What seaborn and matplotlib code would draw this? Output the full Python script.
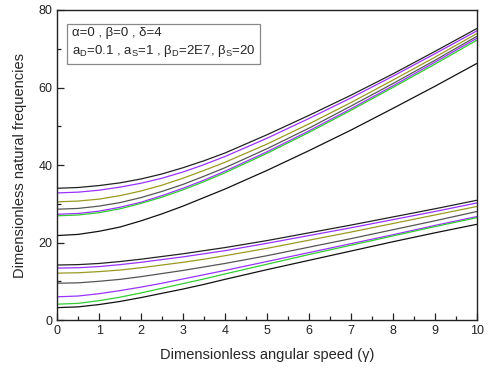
import matplotlib
matplotlib.use("Agg")
import matplotlib.pyplot as plt
import seaborn as sns
import pandas as pd
from matplotlib.ticker import MultipleLocator

gamma = [0, 0.5, 1, 1.5, 2, 2.5, 3, 3.5, 4, 5, 6, 7, 8, 9, 10]

# upper branch (7 curves)
up1 = [34.0, 34.2, 34.7, 35.4, 36.4, 37.7, 39.3, 41.1, 43.1, 47.8, 52.8, 58.0, 63.5, 69.3, 75.2]
up2 = [32.8, 33.0, 33.5, 34.3, 35.3, 36.6, 38.2, 40.1, 42.2, 46.9, 52.0, 57.3, 62.9, 68.7, 74.6]
up3 = [30.5, 30.7, 31.2, 32.1, 33.3, 34.8, 36.6, 38.6, 40.7, 45.4, 50.6, 56.1, 61.9, 67.8, 73.9]
up4 = [28.6, 28.8, 29.4, 30.3, 31.6, 33.2, 35.0, 37.1, 39.3, 44.2, 49.5, 55.2, 61.0, 67.0, 73.2]
up5 = [27.3, 27.5, 28.1, 29.1, 30.4, 32.1, 34.0, 36.1, 38.4, 43.4, 48.8, 54.5, 60.4, 66.5, 72.7]
up6 = [26.9, 27.1, 27.7, 28.7, 30.1, 31.7, 33.6, 35.7, 38.0, 43.0, 48.4, 54.1, 60.0, 66.0, 72.2]
up7 = [21.8, 22.1, 22.9, 24.0, 25.6, 27.4, 29.4, 31.6, 33.8, 38.6, 43.7, 49.0, 54.6, 60.3, 66.2]

# lower branch (7 curves)
lo1 = [14.2, 14.3, 14.6, 15.1, 15.7, 16.4, 17.1, 17.9, 18.7, 20.5, 22.5, 24.5, 26.6, 28.7, 30.9]
lo2 = [13.4, 13.5, 13.8, 14.3, 14.9, 15.6, 16.3, 17.1, 17.9, 19.8, 21.8, 23.8, 25.9, 28.0, 30.2]
lo3 = [12.1, 12.2, 12.5, 12.9, 13.5, 14.2, 14.9, 15.7, 16.6, 18.5, 20.6, 22.7, 24.9, 27.1, 29.3]
lo4 = [9.5, 9.6, 10.0, 10.5, 11.2, 12.0, 12.8, 13.7, 14.6, 16.6, 18.8, 21.0, 23.3, 25.6, 28.0]
lo5 = [6.0, 6.2, 6.8, 7.6, 8.5, 9.5, 10.6, 11.7, 12.8, 15.1, 17.4, 19.7, 22.0, 24.4, 26.7]
lo6 = [4.1, 4.3, 5.0, 5.9, 7.0, 8.2, 9.4, 10.6, 11.9, 14.4, 16.9, 19.3, 21.7, 24.1, 26.4]
lo7 = [3.2, 3.4, 4.0, 4.8, 5.8, 6.9, 8.0, 9.2, 10.5, 13.0, 15.4, 17.8, 20.2, 22.5, 24.7]

curve_names = ["up1", "up2", "up3", "up4", "up5", "up6", "up7",
               "lo1", "lo2", "lo3", "lo4", "lo5", "lo6", "lo7"]
curve_values = [up1, up2, up3, up4, up5, up6, up7,
                lo1, lo2, lo3, lo4, lo5, lo6, lo7]

branch_colors = ["#222222", "#9933ff", "#9a9a22", "#555555", "#9933ff", "#33cc33", "#111111"]

rows = []
for name, vals in zip(curve_names, curve_values):
    for g, v in zip(gamma, vals):
        rows.append({"gamma": g, "freq": v, "curve": name})
df = pd.DataFrame(rows)

palette = {}
for i, name in enumerate(curve_names):
    palette[name] = branch_colors[i % 7]

sns.set_style("ticks")
plt.rcParams["font.family"] = ["Liberation Sans", "DejaVu Sans"]
plt.rcParams["mathtext.fontset"] = "custom"
plt.rcParams["mathtext.rm"] = "Liberation Sans"
plt.rcParams["mathtext.it"] = "Liberation Sans:italic"

fig = plt.figure(figsize=(4.88, 3.70), dpi=100)
ax = fig.add_axes([0.117, 0.135, 0.860, 0.838])

sns.lineplot(data=df, x="gamma", y="freq", hue="curve", palette=palette,
             legend=False, estimator=None, linewidth=0.9, ax=ax, sort=False)

ax.set_xlim(0, 10)
ax.set_ylim(0, 80)
ax.xaxis.set_major_locator(MultipleLocator(1))
ax.xaxis.set_minor_locator(MultipleLocator(0.5))
ax.yaxis.set_major_locator(MultipleLocator(20))
ax.yaxis.set_minor_locator(MultipleLocator(10))
ax.tick_params(which="both", direction="in", top=False, right=False, labelsize=9,
               color="#222222", labelcolor="#222222")
ax.tick_params(which="major", length=5, width=0.9)
ax.tick_params(which="minor", length=3, width=0.9)
for s in ax.spines.values():
    s.set_linewidth(1.0)
    s.set_color("#222222")

ax.set_xlabel("Dimensionless angular speed (\u03b3)", fontsize=10.5, labelpad=8)
ax.set_ylabel("Dimensionless natural frequencies", fontsize=10.5, labelpad=8)

txt = ("\u03b1=0 , \u03b2=0 , \u03b4=4\n"
       "a$_\\mathrm{D}$=0.1 , a$_\\mathrm{S}$=1 , \u03b2$_\\mathrm{D}$=2E7, \u03b2$_\\mathrm{S}$=20")
ax.text(0.035, 0.945, txt, transform=ax.transAxes, fontsize=9.5, va="top", ha="left",
        linespacing=1.35,
        bbox=dict(boxstyle="square,pad=0.35", facecolor="white", edgecolor="#888888", linewidth=0.9))

fig.savefig("out.png", dpi=100)
